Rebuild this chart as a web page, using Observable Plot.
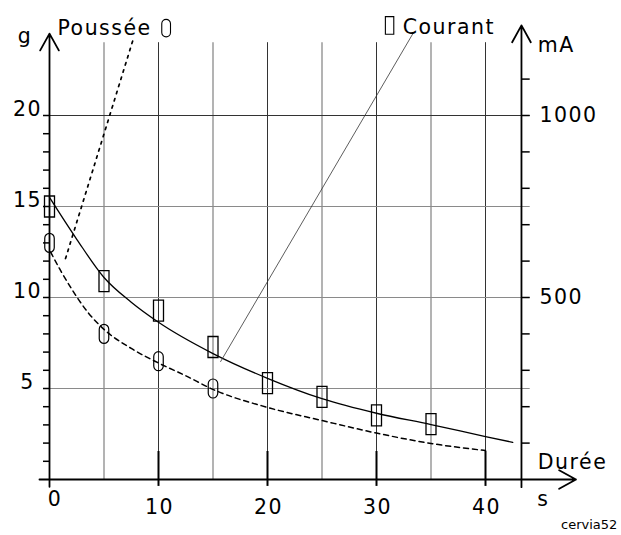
<!DOCTYPE html>
<html>
<head>
<meta charset="utf-8">
<script src="https://cdn.jsdelivr.net/npm/d3@7"></script>
<script src="https://cdn.jsdelivr.net/npm/@observablehq/plot@0.6"></script>
<style>
  html, body { margin: 0; padding: 0; background: white; }
  #chart svg text { letter-spacing: 1.5px; }
</style>
</head>
<body>
<div id="chart"></div>
<script>
// ---- data ----
const mAPerG = 50; // right axis (mA) vs left axis (g)

// Courant (mA), square markers
const courantT  = [0, 5, 10, 15, 20, 25, 30, 35];
const courantMA = [750, 545, 464, 364, 265, 227, 176, 152];

// Poussée (g), oval markers
const pousseeT = [0, 5, 10, 15];
const pousseeG = [13, 8.0, 6.5, 5.0];

// fitted curves
const courantFitT  = [0, 2.5, 5, 7.5, 10, 15, 20, 25, 30, 35, 40, 42.5];
const courantFitMA = [775, 660, 555, 487, 432, 346, 278, 222, 182, 151, 118, 102];
const pousseeFitT = [0.1, 1, 2, 3.5, 5, 7.5, 10, 12.5, 15, 20, 25, 30, 35, 40];
const pousseeFitG = [12.5, 11.5, 10.5, 9.2, 8.25, 7.2, 6.4, 5.7, 4.95, 3.96, 3.24, 2.55, 1.98, 1.59];

// leader lines from the labels to the curves
const leaderPousseeT = [1.47, 7.7];
const leaderPousseeG = [12.14, 24.23];
const leaderCourantT  = [15.7, 33.4];
const leaderCourantMA = [324, 1228];

// axes / ticks
const xTickLabels = [0, 10, 20, 30, 40];
const xGridMinor = [5, 15, 25, 35];
const xGridMajor = [10, 20, 30, 40];
const yTickLabels = [5, 10, 15, 20];
const yMinorTicks = d3.range(1, 21);
const mATickLabels = [500, 1000];
const mAMinorTicks = d3.range(100, 1200, 100);

// ---- tables ----
const courant = courantT.map((t, i) => ({t, g: courantMA[i] / mAPerG}));
const poussee = pousseeT.map((t, i) => ({t, g: pousseeG[i]}));
const courantFit = courantFitT.map((t, i) => ({t, g: courantFitMA[i] / mAPerG}));
const pousseeFit = pousseeFitT.map((t, i) => ({t, g: pousseeFitG[i]}));
const leaderP = leaderPousseeT.map((t, i) => ({t, g: leaderPousseeG[i]}));
const leaderC = leaderCourantT.map((t, i) => ({t, g: leaderCourantMA[i] / mAPerG}));

// ---- custom marker symbols ----
const rectSymbol = {
  draw(ctx, size) {
    const r = Math.sqrt(size / Math.PI), w = r, h = 2.1 * r;
    ctx.moveTo(-w, -h); ctx.lineTo(w, -h); ctx.lineTo(w, h); ctx.lineTo(-w, h); ctx.closePath();
  }
};
const ovalSymbol = {
  draw(ctx, size) {
    const r = Math.sqrt(size / Math.PI), w = 0.95 * r, h = 1.9 * r;
    ctx.moveTo(-w, -h + w);
    ctx.arc(0, -h + w, w, Math.PI, 2 * Math.PI);
    ctx.lineTo(w, h - w);
    ctx.arc(0, h - w, w, 0, Math.PI);
    ctx.closePath();
  }
};

const FS = 20.5;
const axisStyle = {stroke: "black", strokeWidth: 1.8, headAngle: 58, headLength: 16};

const plot = Plot.plot({
  width: 621,
  height: 535,
  marginLeft: 49,
  marginRight: 27,
  marginTop: 5.8,
  marginBottom: 56,
  x: {domain: [0, 50], axis: null},
  y: {domain: [0, 26], axis: null},
  style: {fontFamily: "DejaVu Sans", background: "white", overflow: "visible", color: "black"},
  marks: [
    // grid
    Plot.ruleX(xGridMinor, {x: d => d, y1: 0, y2: 24, stroke: "#8a8a8a", strokeWidth: 1.3}),
    Plot.ruleX(xGridMajor, {x: d => d, y1: 0, y2: 24, stroke: "#333", strokeWidth: 1}),
    Plot.ruleY(yTickLabels, {y: d => d, x1: 0, x2: 44.1, stroke: d => d === 20 ? "#333" : "#8a8a8a", strokeWidth: 1.2}),
    // left minor ticks
    Plot.ruleY(yMinorTicks, {y: d => d, x1: -0.55, x2: 0, stroke: "black", strokeWidth: 1.5}),
    // right ticks
    Plot.ruleY(mAMinorTicks, {y: d => d / mAPerG, x1: 43.3, x2: 44.1, stroke: "black", strokeWidth: 1.5}),
    // heavy bottom ticks
    Plot.ruleX(xGridMajor, {x: d => d, y1: -0.38, y2: 1.54, stroke: "black", strokeWidth: 2}),
    // axes with arrowheads
    Plot.arrow([0], {x1: 0, x2: 0, y1: -0.4, y2: 24.5, ...axisStyle}),
    Plot.arrow([0], {x1: 43.3, x2: 43.3, y1: -0.42, y2: 24.95, ...axisStyle}),
    Plot.arrow([0], {x1: -0.92, x2: 48.3, y1: 0, y2: 0, ...axisStyle}),
    // fitted curves
    Plot.line(courantFit, {x: "t", y: "g", curve: "monotone-x", stroke: "black", strokeWidth: 1.3}),
    Plot.line(pousseeFit, {x: "t", y: "g", curve: "monotone-x", stroke: "black", strokeWidth: 1.5, strokeDasharray: "5,4"}),
    // leader lines
    Plot.line(leaderP, {x: "t", y: "g", stroke: "black", strokeWidth: 1.7, strokeDasharray: "2.5,5"}),
    Plot.line(leaderC, {x: "t", y: "g", stroke: "#333", strokeWidth: 0.8}),
    // markers
    Plot.dot(courant, {x: "t", y: "g", symbol: rectSymbol, r: 5, fill: "none", stroke: "black", strokeWidth: 1.3}),
    Plot.dot(poussee, {x: "t", y: "g", symbol: ovalSymbol, r: 5, fill: "none", stroke: "black", strokeWidth: 1.2}),
    // legend
    Plot.text(["Poussée"], {x: 0.73, y: 24.4, text: d => d, textAnchor: "start", lineAnchor: "bottom", fontSize: FS}),
    Plot.dot([0], {x: 10.7, y: 24.8, symbol: ovalSymbol, r: 4.6, fill: "none", stroke: "black", strokeWidth: 1.1}),
    Plot.dot([0], {x: 31.2, y: 24.95, symbol: rectSymbol, r: 4.2, fill: "none", stroke: "black", strokeWidth: 1.1}),
    Plot.text(["Courant"], {x: 32.4, y: 24.5, text: d => d, textAnchor: "start", lineAnchor: "bottom", fontSize: FS}),
    // axis labels
    Plot.text(yTickLabels, {x: -2.02, y: d => d, text: d => String(d), textAnchor: "middle", lineAnchor: "bottom", fontSize: FS}),
    Plot.text(mATickLabels, {x: 44.95, y: d => d / mAPerG, text: d => String(d), textAnchor: "start", lineAnchor: "middle", fontSize: FS}),
    Plot.text(xTickLabels.filter(d => d !== 0), {x: d => d, y: 0, dx: 1, dy: 34, text: d => String(d), textAnchor: "middle", lineAnchor: "bottom", fontSize: FS}),
    Plot.text(xTickLabels.filter(d => d === 0), {x: d => d, y: 0, dx: 5.5, dy: 26, text: d => String(d), textAnchor: "middle", lineAnchor: "bottom", fontSize: FS}),
    // units
    Plot.text(["g"], {x: -2.25, y: 24.0, text: d => d, textAnchor: "middle", lineAnchor: "bottom", fontSize: FS}),
    Plot.text(["mA"], {x: 44.8, y: 23.85, text: d => d, textAnchor: "start", lineAnchor: "middle", fontSize: FS}),
    Plot.text(["Durée"], {x: 44.8, y: 0.6, text: d => d, textAnchor: "start", lineAnchor: "bottom", fontSize: FS}),
    Plot.text(["s"], {x: 45.3, y: -1.43, text: d => d, textAnchor: "middle", lineAnchor: "bottom", fontSize: FS}),
    // caption
    Plot.text(["cervia52"], {x: 52.1, y: -2.72, text: d => d, textAnchor: "end", lineAnchor: "bottom", fontSize: 13})
  ]
});

plot.querySelectorAll("text").forEach(t => {
  if (t.textContent === "cervia52") t.style.letterSpacing = "0px";
});
document.getElementById("chart").appendChild(plot);
</script>
</body>
</html>
